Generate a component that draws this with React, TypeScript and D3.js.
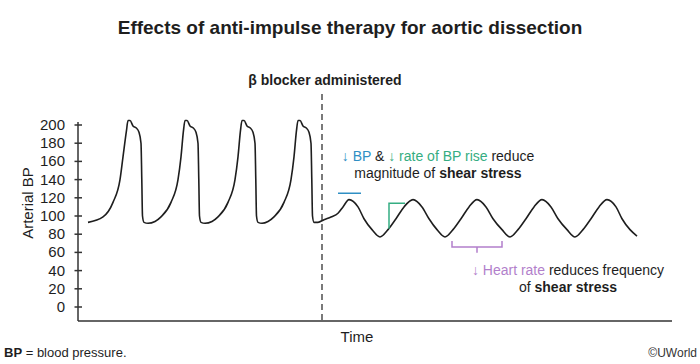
import React from "react";
import * as d3 from "d3";

// Waveform: time (arbitrary units) and arterial BP (mmHg)
const waveTime = [
  10, 25, 35, 42, 45, 48.5, 50, 52, 55, 58, 61, 63, 63.8, 64.5, 66, 70,
  77, 83, 93, 100, 103, 105.5, 107, 109, 112, 115, 118, 120, 120.8, 121.5, 123, 127,
  134, 140, 150, 157, 160, 162.5, 164, 166, 169, 172, 175, 177, 177.8, 178.5, 180, 184,
  190, 196, 206, 213, 216, 218.5, 220, 222, 225, 228, 231, 233, 233.8, 234.5, 236, 240,
  246, 253, 260, 265, 271, 280, 286, 294, 302, 310, 318, 326, 335, 344, 351, 359,
  367, 375, 383, 391, 399, 408, 415, 424, 432, 440, 448, 456, 464, 473, 480, 489,
  497, 505, 513, 521, 529, 538, 544, 552, 559,
];
const waveBP = [
  93, 99, 115, 140, 165, 194, 205, 205, 199, 197, 192, 180, 140, 100, 93, 92,
  94, 99, 115, 140, 165, 194, 205, 205, 199, 197, 192, 180, 140, 100, 93, 92,
  94, 99, 115, 140, 165, 194, 205, 205, 199, 197, 192, 180, 140, 100, 93, 92,
  94, 99, 115, 140, 165, 194, 205, 205, 199, 197, 192, 180, 140, 100, 93, 93,
  96, 99, 103, 110, 118, 110, 97, 85, 77, 85, 97, 110, 118, 110, 97, 85,
  77, 85, 97, 110, 118, 110, 97, 85, 77, 85, 97, 110, 118, 110, 97, 85,
  77, 85, 97, 110, 118, 110, 97, 85, 78,
];
const yTicks = [0, 20, 40, 60, 80, 100, 120, 140, 160, 180, 200];
const betaTime = 244;
// annotation marks (time, BP)
const blueMark = { t0: 260, t1: 283, bp: 125 };
const greenMark = { t: 311, t1: 327, bpLow: 86, bpHigh: 114 };
const purpleMark = { t0: 374, t1: 424, tMid: 399, bp: 66, bpEnd: 72.5, bpMid: 59.5 };

const BLUE = "#2f8fc4";
const GREEN = "#35ad82";
const PURPLE = "#b27fcb";
const INK = "#1e1e1e";
const FONT = "'Liberation Sans', Arial, Helvetica, sans-serif";

export default function App() {
  const W = 700, H = 364;
  const x = d3.scaleLinear().domain([0, 594]).range([78, 672]);
  const y = d3.scaleLinear().domain([0, 200]).range([307, 125]);
  const pts: [number, number][] = waveTime.map((t, i) => [t, waveBP[i]]);
  const line = d3
    .line<[number, number]>()
    .x((d) => x(d[0]))
    .y((d) => y(d[1]))
    .curve(d3.curveMonotoneX);

  return (
    <svg
      width={W}
      height={H}
      style={{ position: "absolute", left: 0, top: 0, background: "#fff" }}
      fontFamily={FONT}
    >
      <rect width={W} height={H} fill="#fff" />
      <text x={350} y={34} textAnchor="middle" fontSize={19} fontWeight="bold" fill={INK}>
        Effects of anti-impulse therapy for aortic dissection
      </text>

      {/* axes */}
      <line x1={78} x2={78} y1={122} y2={321} stroke="#333" strokeWidth={1.5} />
      <line x1={78} x2={672} y1={321} y2={321} stroke="#333" strokeWidth={1.5} />
      {yTicks.map((v) => (
        <g key={v}>
          <line x1={74.5} x2={82} y1={y(v)} y2={y(v)} stroke="#333" strokeWidth={1.5} />
          <text x={65} y={y(v) + 5} textAnchor="end" fontSize={15} fill={INK}>
            {v}
          </text>
        </g>
      ))}
      <text
        transform="translate(33,203) rotate(-90)"
        textAnchor="middle"
        fontSize={15}
        fill={INK}
      >
        Arterial BP
      </text>
      <text x={357} y={342} textAnchor="middle" fontSize={15} fill={INK}>
        Time
      </text>

      {/* beta blocker marker */}
      <line
        x1={x(betaTime)}
        x2={x(betaTime)}
        y1={94}
        y2={321}
        stroke="#333"
        strokeWidth={1.3}
        strokeDasharray="6,4"
      />
      <text x={325} y={85} textAnchor="middle" fontSize={14} fontWeight="bold" fill={INK}>
        β blocker administered
      </text>

      {/* waveform */}
      <path d={line(pts) || ""} fill="none" stroke={INK} strokeWidth={1.6} />

      {/* annotation marks */}
      <line
        x1={x(blueMark.t0)}
        x2={x(blueMark.t1)}
        y1={y(blueMark.bp)}
        y2={y(blueMark.bp)}
        stroke={BLUE}
        strokeWidth={1.5}
      />
      <path
        d={`M${x(greenMark.t)},${y(greenMark.bpLow)}V${y(greenMark.bpHigh)}H${x(greenMark.t1)}`}
        fill="none"
        stroke={GREEN}
        strokeWidth={1.5}
      />
      <path
        d={`M${x(purpleMark.t0)},${y(purpleMark.bpEnd)}V${y(purpleMark.bp)}H${x(purpleMark.t1)}V${y(
          purpleMark.bpEnd
        )}M${x(purpleMark.tMid)},${y(purpleMark.bp)}V${y(purpleMark.bpMid)}`}
        fill="none"
        stroke={PURPLE}
        strokeWidth={1.5}
      />

      {/* annotation texts */}
      <text x={438} y={161} textAnchor="middle" fontSize={14} fill={INK}>
        <tspan fill={BLUE}>↓ BP</tspan>
        <tspan> &amp; </tspan>
        <tspan fill={GREEN}>↓ rate of BP rise</tspan>
        <tspan> reduce</tspan>
      </text>
      <text x={438} y={178} textAnchor="middle" fontSize={14} fill={INK}>
        magnitude of <tspan fontWeight="bold">shear stress</tspan>
      </text>
      <text x={568} y={275} textAnchor="middle" fontSize={14} fill={INK}>
        <tspan fill={PURPLE}>↓ Heart rate</tspan>
        <tspan> reduces frequency</tspan>
      </text>
      <text x={568} y={292} textAnchor="middle" fontSize={14} fill={INK}>
        of <tspan fontWeight="bold">shear stress</tspan>
      </text>

      {/* footer */}
      <text x={4} y={357} fontSize={13} fill={INK}>
        <tspan fontWeight="bold">BP</tspan> = blood pressure.
      </text>
      <text x={697} y={357} textAnchor="end" fontSize={12} fill="#333">
        ©UWorld
      </text>
    </svg>
  );
}
